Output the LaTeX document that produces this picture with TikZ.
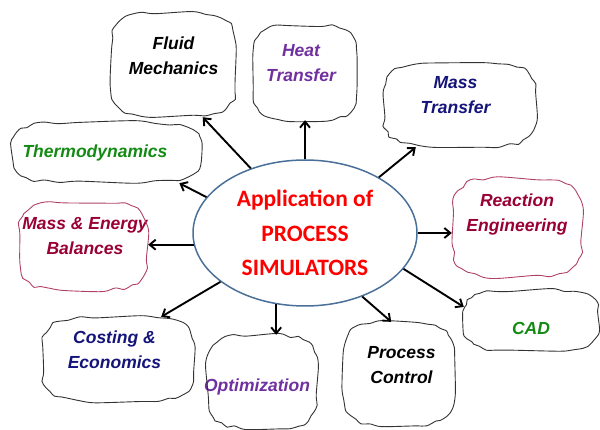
\documentclass[tikz,border=0pt]{standalone}
\usepackage{fontspec}
\setmainfont{Liberation Sans}
\newfontfamily\calibri{Carlito}
\usetikzlibrary{arrows.meta,shapes.geometric}

\definecolor{rimblue}{HTML}{4A7099}
\definecolor{heatpurple}{HTML}{7030A0}
\definecolor{deepnavy}{HTML}{14147A}
\definecolor{leafgreen}{HTML}{138A13}
\definecolor{wine}{HTML}{990033}
\definecolor{winerim}{HTML}{B0406A}

\tikzset{
    blob/.style={rectangle, inner sep=0pt},
    rim/.style={draw=#1, line width=0.9pt, line join=round},
    topic/.style={font=\fontsize{17.5}{25}\selectfont\bfseries\itshape, align=center},
    link/.style={line width=1.9pt, -{Straight Barb[length=6pt, width=10pt]}},
}

\begin{document}
\begin{tikzpicture}[x=1pt, y=-1pt]
    \pgfmathsetseed{23}
    \useasboundingbox (0, 0) rectangle (600, 430);

    % centre
    \node[ellipse, draw=rimblue, fill=white, line width=1.5pt, inner sep=0pt,
        minimum width=224pt, minimum height=146pt, text=red,
        font=\calibri\bfseries\fontsize{23.5}{34.5}\selectfont, align=center]
        (app) at (305, 233) {Application of\\PROCESS\\SIMULATORS};

    % topics round it
    \node[blob, minimum width=127pt, minimum height=105pt,
        label={[topic, yshift=9pt]center:Fluid\\Mechanics}] (fluid) at (173.5, 64.5) {};
    \node[blob, minimum width=107pt, minimum height=95pt,
        label={[topic, text=heatpurple, yshift=9pt, xshift=-4pt]center:Heat\\Transfer}] (heat) at (305, 72.5) {};
    \node[blob, minimum width=153pt, minimum height=84pt,
        label={[topic, text=deepnavy, yshift=10pt, xshift=-4pt]center:Mass\\Transfer}] (mass) at (459.5, 105) {};
    \node[blob, minimum width=190pt, minimum height=61pt,
        label={[topic, text=leafgreen, xshift=-12pt]center:Thermodynamics}] (thermo) at (107, 152.5) {};
    \node[blob, minimum width=130pt, minimum height=88pt,
        label={[topic, text=wine, yshift=10pt, xshift=2pt]center:Mass \& Energy\\Balances}] (balance) at (83, 246) {};
    \node[blob, minimum width=130pt, minimum height=99pt,
        label={[topic, text=wine, yshift=13pt]center:Reaction\\Engineering}] (reaction) at (517, 227.5) {};
    \node[blob, minimum width=134pt, minimum height=60pt,
        label={[topic, text=leafgreen, yshift=-8pt]center:CAD}] (cad) at (531, 320) {};
    \node[blob, minimum width=113pt, minimum height=103pt,
        label={[topic, yshift=8pt, xshift=3pt]center:Process\\Control}] (control) at (398.5, 373.5) {};
    \node[blob, minimum width=110pt, minimum height=93pt,
        label={[topic, text=heatpurple, yshift=-5pt, xshift=-5pt]center:Optimization}] (optim) at (262, 381.5) {};
    \node[blob, minimum width=153pt, minimum height=85pt,
        label={[topic, text=deepnavy, yshift=10pt, xshift=-4pt]center:Costing \&\\Economics}] (cost) at (118.5, 359.5) {};

    % wobbly outlines
    \foreach \n/\a/\b/\c in {fluid/63.5/52.5/black!80, heat/53.5/47.5/black!80,
        mass/76.5/42/black!80, thermo/95/30.5/black!80, balance/65/44/winerim,
        reaction/65/49.5/winerim, cad/67/30/black!80, control/56.5/51.5/black!80,
        optim/55/46.5/black!80, cost/76.5/42.5/black!80}
        \draw[rim=\c, shift={(\n.center)}] plot[smooth cycle, variable=\t, domain=5:355, samples=36]
            ({(\a+1.8*rand)*cos(\t)*abs(cos(\t))^(-0.5)}, {(\b+1.8*rand)*sin(\t)*abs(sin(\t))^(-0.5)});

    % arrows out of the centre
    \draw[link] (app.130) -- (fluid.299);
    \draw[link] (app.north) -- (heat.south);
    \draw[link] (app.37) -- (mass.224);
    \draw[link] (app.160) -- (thermo.337);
    \draw[link] (app.186) -- (balance.east |- app.186);
    \draw[link] (app.east) -- (reaction.west |- app.east);
    \draw[link] (app.340) -- (cad.169);
    \draw[link] (app.312) -- (control.98);
    \draw[link] (app.248) -- (optim.north -| app.248);
    \draw[link] (app.210) -- (cost.45);
\end{tikzpicture}
\end{document}
